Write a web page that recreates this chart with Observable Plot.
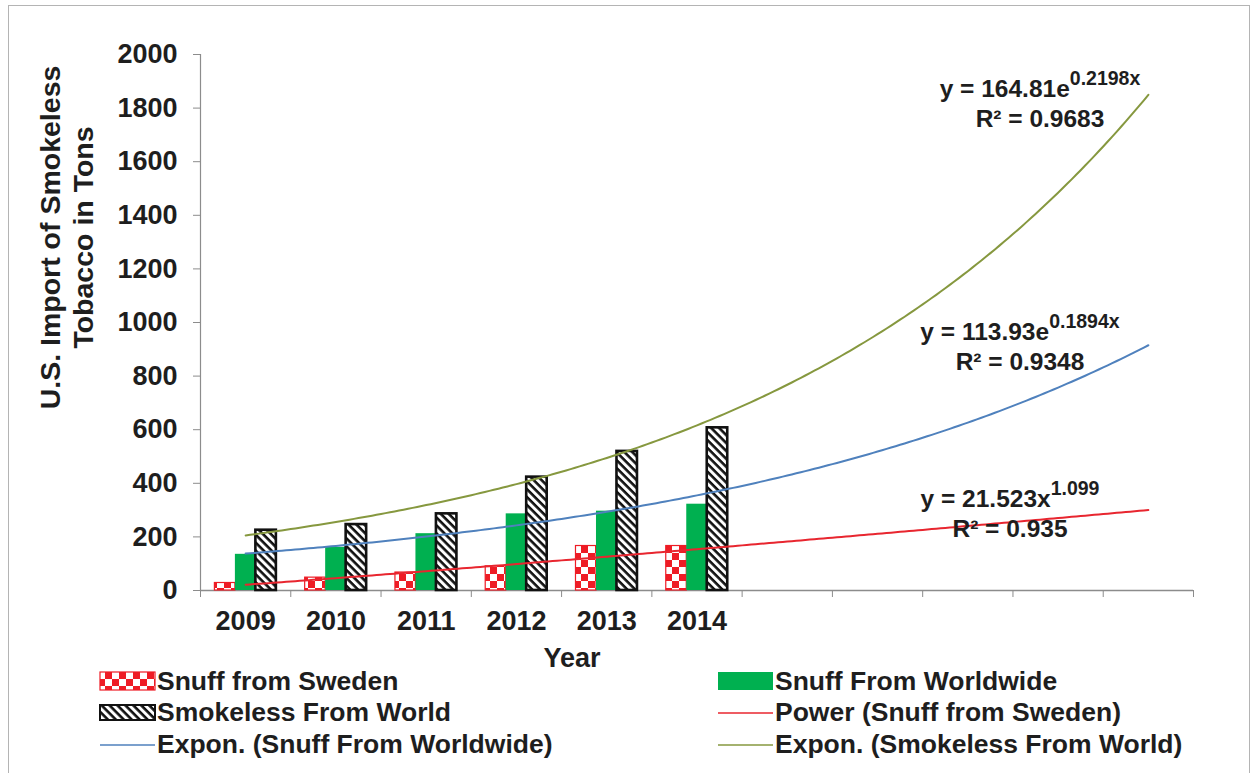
<!DOCTYPE html>
<html><head><meta charset="utf-8">
<script src="https://cdn.jsdelivr.net/npm/d3@7"></script>
<script src="https://cdn.jsdelivr.net/npm/@observablehq/plot@0.6"></script>
<style>
body{margin:0;background:#fff;font-family:"Liberation Sans",Arial,sans-serif;}
#frame{position:absolute;left:8px;top:5px;width:1240px;height:800px;border:1px solid #b4b4b4;}
#chart{position:absolute;left:0;top:0;}
#legend{position:absolute;left:0;top:0;}
</style></head><body>
<div id="frame"></div>
<svg width="0" height="0" style="position:absolute">
<defs>
<pattern id="checker" patternUnits="userSpaceOnUse" width="14" height="14">
<rect width="14" height="14" fill="#ee1c25"/>
<rect width="7" height="7" fill="#fff"/>
<rect x="7" y="7" width="7" height="7" fill="#fff"/>
</pattern>
<pattern id="hatch" patternUnits="userSpaceOnUse" width="5.6" height="5.6" patternTransform="rotate(45)">
<rect width="5.6" height="5.6" fill="#fff"/>
<rect width="5.6" height="2.6" fill="#111"/>
</pattern>
</defs></svg>
<div id="chart"></div>
<svg id="legend" width="1255" height="773"></svg>
<script>
// ---- data ----
const categories = ["2009","2010","2011","2012","2013","2014","","","","",""];
const snuffSweden    = [28, 48, 67, 90, 166, 166];
const snuffWorldwide = [135, 161, 212, 286, 296, 322];
const smokelessWorld = [225, 246, 286, 423, 519, 607];
const yTicks = [0,200,400,600,800,1000,1200,1400,1600,1800,2000];
// trendline coefficients as displayed on the chart
const powerSweden     = [21.523, 1.099];   // y = a x^b
const exponWorldwide  = [113.93, 0.1894];  // y = a e^(b x)
const exponSmokeless  = [164.81, 0.2198];  // y = a e^(b x)

const seriesNames = ["Snuff from Sweden","Snuff From Worldwide","Smokeless From World"];
const seriesValues = [snuffSweden, snuffWorldwide, smokelessWorld];
const seriesFill = ["url(#checker)","#00b050","url(#hatch)"];
const seriesStroke = ["#ee1c25","none","#111"];
const seriesStrokeW = [1.2,0,2.6];

const barW = 0.227;
const bars = [];
seriesValues.forEach((vals, k) => vals.forEach((v, i) => bars.push({k, x: i + 1, v})));

const nSlots = categories.length;
const trendX = d3.range(1, nSlots + 0.001, 0.05);
const trends = [
  {name: "Power (Snuff from Sweden)", color: "#e8262f", f: x => powerSweden[0] * Math.pow(x, powerSweden[1])},
  {name: "Expon. (Snuff From Worldwide)", color: "#4f81bd", f: x => exponWorldwide[0] * Math.exp(exponWorldwide[1] * x)},
  {name: "Expon. (Smokeless From World)", color: "#86983f", f: x => exponSmokeless[0] * Math.exp(exponSmokeless[1] * x)}
];

const axisGrey = "#8c8c8c";
const txt = "#1e1e1e";

const marks = [
  Plot.ruleX([0.5], {stroke: axisGrey, strokeWidth: 1.2}),
  Plot.ruleY([0], {stroke: axisGrey, strokeWidth: 1.5}),
  Plot.axisY(yTicks, {tickSize: 7, tickPadding: 16, tickFormat: d => String(d), label: null, fontSize: 27, fontWeight: "bold", stroke: axisGrey, fill: txt}),
  Plot.axisX(d3.range(0.5, nSlots + 1, 1), {tickSize: 7, tickFormat: () => "", label: null, stroke: axisGrey}),
  Plot.axisX(d3.range(1, nSlots + 1), {tickSize: 0, tickPadding: 20, tickFormat: i => categories[i - 1], label: null, fontSize: 27, fontWeight: "bold", fill: txt})
];
seriesValues.forEach((vals, k) => {
  marks.push(Plot.rect(bars.filter(d => d.k === k), {
    x1: d => d.x - 1.5 * barW + k * barW,
    x2: d => d.x - 0.5 * barW + k * barW,
    y1: 0, y2: "v",
    fill: seriesFill[k], stroke: seriesStroke[k], strokeWidth: seriesStrokeW[k]
  }));
});
trends.forEach(t => {
  marks.push(Plot.line(trendX, {x: d => d, y: d => t.f(d), stroke: t.color, strokeWidth: 2, curve: "linear"}));
});
marks.push(
  Plot.text(["U.S. Import of Smokeless"], {frameAnchor: "left", textAnchor: "middle", rotate: -90, dx: -141, dy: -85, lineAnchor: "bottom", fontSize: 28.5, fontWeight: "bold", fill: txt}),
  Plot.text(["Tobacco in Tons"], {frameAnchor: "left", textAnchor: "middle", rotate: -90, dx: -108, dy: -85, lineAnchor: "bottom", fontSize: 28.5, fontWeight: "bold", fill: txt}),
  Plot.text(["Year"], {frameAnchor: "bottom", dx: -125, dy: 76, lineAnchor: "bottom", fontSize: 27, fontWeight: "bold", fill: txt})
);

const plot = Plot.plot({
  width: 1255, height: 672,
  marginLeft: 200, marginRight: 62, marginTop: 54, marginBottom: 82,
  style: {fontFamily: "'Liberation Sans', Arial, sans-serif", fontWeight: "bold", background: "transparent", overflow: "visible"},
  x: {type: "linear", domain: [0.5, nSlots + 0.5]},
  y: {domain: [0, 2000]},
  marks
});
document.getElementById("chart").appendChild(plot);

// equation annotations
const eqs = [
  {base: "y = 164.81e", sup: "0.2198x", r2: "R² = 0.9683", cx: 1040, y: 97},
  {base: "y = 113.93e", sup: "0.1894x", r2: "R² = 0.9348", cx: 1020, y: 340},
  {base: "y = 21.523x", sup: "1.099", r2: "R² = 0.935", cx: 1010, y: 507}
];
const svg = d3.select(plot);
eqs.forEach(e => {
  const t = svg.append("text").attr("x", e.cx).attr("y", e.y).attr("text-anchor", "middle")
    .attr("font-size", 24.5).attr("font-weight", "bold").attr("fill", txt);
  t.append("tspan").text(e.base);
  t.append("tspan").attr("dy", -12).attr("font-size", 19.5).text(e.sup);
  svg.append("text").attr("x", e.cx).attr("y", e.y + 30).attr("text-anchor", "middle")
    .attr("font-size", 24.5).attr("font-weight", "bold").attr("fill", txt).text(e.r2);
});

// legend
const leg = d3.select("#legend").style("font-family", "'Liberation Sans', Arial, sans-serif");
const legItems = [
  {label: seriesNames[0], kind: "rect", fill: seriesFill[0], stroke: seriesStroke[0], sw: 1.2, x: 100, y: 690, ry: 672, rh: 18},
  {label: seriesNames[1], kind: "rect", fill: seriesFill[1], stroke: "none", sw: 0, x: 718, y: 690, ry: 672, rh: 18},
  {label: seriesNames[2], kind: "rect", fill: seriesFill[2], stroke: "#111", sw: 2, x: 100, y: 721, ry: 705, rh: 15},
  {label: trends[0].name, kind: "line", color: trends[0].color, x: 718, y: 721, ly: 713},
  {label: trends[1].name, kind: "line", color: trends[1].color, x: 100, y: 753, ly: 745},
  {label: trends[2].name, kind: "line", color: trends[2].color, x: 718, y: 753, ly: 745}
];
legItems.forEach(it => {
  if (it.kind === "rect") {
    leg.append("rect").attr("x", it.x).attr("y", it.ry).attr("width", 55).attr("height", it.rh)
      .attr("fill", it.fill).attr("stroke", it.stroke).attr("stroke-width", it.sw);
  } else {
    leg.append("line").attr("x1", it.x).attr("x2", it.x + 55).attr("y1", it.ly).attr("y2", it.ly)
      .attr("stroke", it.color).attr("stroke-width", 1.5);
  }
  leg.append("text").attr("x", it.x + 57).attr("y", it.y).attr("font-size", 26.5).attr("font-weight", "bold")
    .attr("fill", txt).text(it.label);
});
</script>
</body></html>
